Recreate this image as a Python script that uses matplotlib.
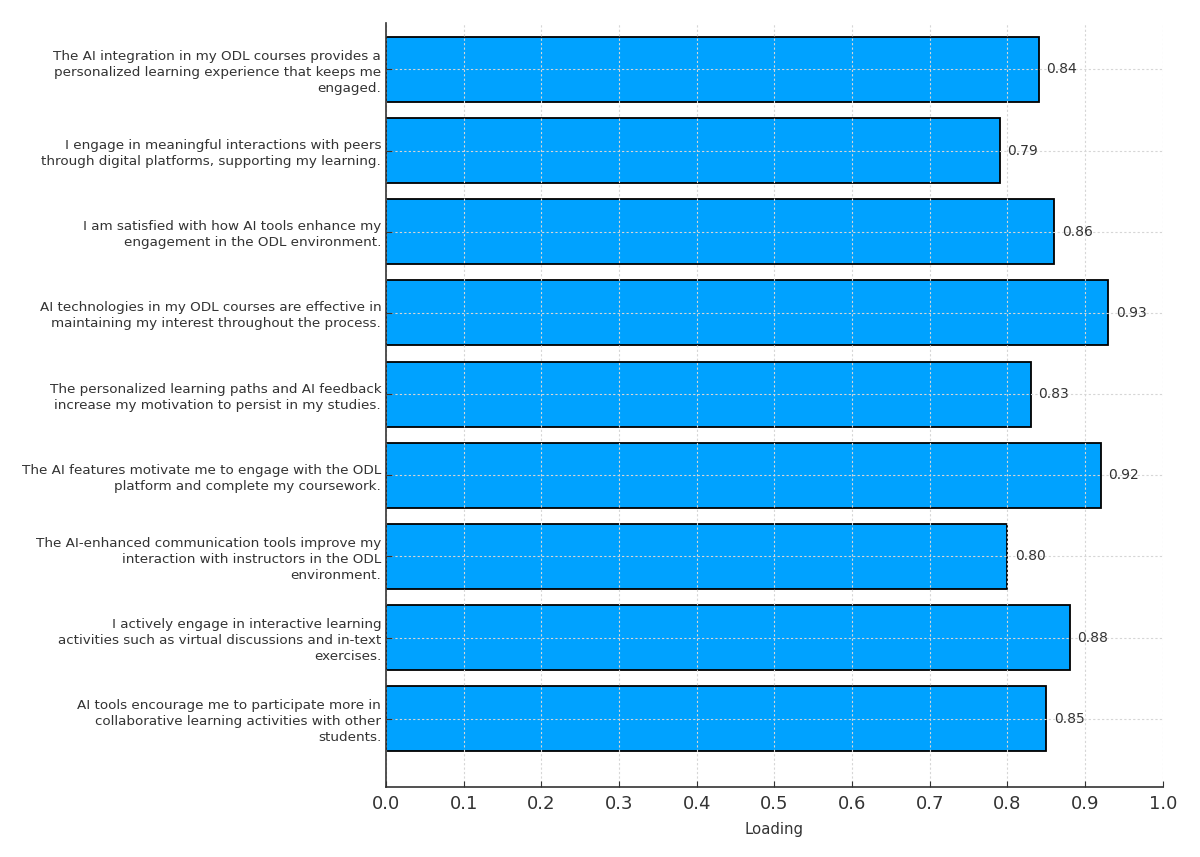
import numpy as np
import matplotlib.pyplot as plt

items = [
    "The AI integration in my ODL courses provides a\npersonalized learning experience that keeps me\nengaged.",
    "I engage in meaningful interactions with peers\nthrough digital platforms, supporting my learning.",
    "I am satisfied with how AI tools enhance my\nengagement in the ODL environment.",
    "AI technologies in my ODL courses are effective in\nmaintaining my interest throughout the process.",
    "The personalized learning paths and AI feedback\nincrease my motivation to persist in my studies.",
    "The AI features motivate me to engage with the ODL\nplatform and complete my coursework.",
    "The AI-enhanced communication tools improve my\ninteraction with instructors in the ODL\nenvironment.",
    "I actively engage in interactive learning\nactivities such as virtual discussions and in-text\nexercises.",
    "AI tools encourage me to participate more in\ncollaborative learning activities with other\nstudents.",
]
loadings = [0.84, 0.79, 0.86, 0.93, 0.83, 0.92, 0.80, 0.88, 0.85]
x_ticks = np.arange(0, 1.01, 0.1)

text_color = "#333333"

fig = plt.figure(figsize=(12, 8.57), dpi=100)
ax = fig.add_axes([0.3217, 0.0817, 0.969 - 0.3217, 0.973 - 0.0817])

# first item at the top
y = np.arange(len(items))[::-1]
ax.barh(y, loadings, height=0.8, color="#00A2FF", edgecolor="black", linewidth=1.3, zorder=2)

for yi, v in zip(y, loadings):
    ax.text(v + 0.01, yi, f"{v:.2f}", va="center", ha="left", fontsize=10, color=text_color)

ax.set_yticks(y)
ax.set_yticklabels(items, fontsize=9.7, color=text_color, linespacing=1.3)
ax.set_xticks(x_ticks)
ax.set_xticklabels([f"{t:.1f}" for t in x_ticks], fontsize=13, color=text_color)
ax.set_xlim(0, 1.0)
ax.set_ylim(-0.84, 8.57)
ax.set_xlabel("Loading", fontsize=10.7, color=text_color, labelpad=6)

ax.grid(True, linestyle=(0, (2, 2)), color="#d6d6d6", linewidth=0.8, zorder=3)
ax.set_axisbelow(False)
for s in ["top", "right"]:
    ax.spines[s].set_visible(False)
for s in ["left", "bottom"]:
    ax.spines[s].set_color("#333333")
    ax.spines[s].set_linewidth(1.2)
    ax.spines[s].set_zorder(5)
ax.tick_params(axis="both", direction="in", length=4, color="#333333")
ax.tick_params(axis="x", pad=6)

plt.savefig("out.png", dpi=100)
